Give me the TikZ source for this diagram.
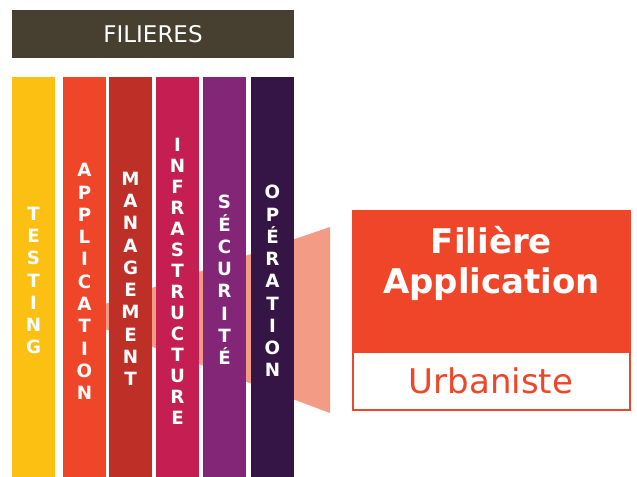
\documentclass[tikz,border=0pt]{standalone}
\usepackage{fontspec}
\setmainfont{DejaVu Sans}
\definecolor{hdrbrown}{RGB}{71,63,48}
\definecolor{cyellow}{RGB}{251,192,18}
\definecolor{cred}{RGB}{239,70,42}
\definecolor{cbrick}{RGB}{190,48,39}
\definecolor{cmagenta}{RGB}{196,30,82}
\definecolor{cpurple}{RGB}{131,38,119}
\definecolor{cdark}{RGB}{52,21,69}
\definecolor{cfunnel}{RGB}{243,155,133}
\begin{document}
\begin{tikzpicture}[x=0.75pt,y=-0.75pt,
  vlet/.style={text=white, font=\fontsize{13.7}{16.7}\selectfont\bfseries, align=center, inner sep=0pt, anchor=north},
  bigtxt/.style={inner sep=0pt, anchor=base, font=\fontsize{25.5}{30}\selectfont}]
\useasboundingbox (0,0) rectangle (637,477);
% header
\fill[hdrbrown] (12,10) rectangle (294,58);
\node[text=white, font=\fontsize{17.25}{20}\selectfont] (hdr) at (153,34) {FILIERES};
% funnel
\fill[cfunnel] (70,316) -- (330,227) -- (330,413) -- cycle;
% columns
\fill[cyellow]  (12,77)  rectangle (55,477);
\fill[cred]     (63,77)  rectangle (106,477);
\fill[cbrick]   (109,77) rectangle (152,477);
\fill[cmagenta] (156,77) rectangle (199,477);
\fill[cpurple]  (203,77) rectangle (246,477);
\fill[cdark]    (251,77) rectangle (294,477);
\node[vlet] (testing) at (33.5,206.7) {T\\E\\S\\T\\I\\N\\G};
\node[vlet] (application) at (84.5,163.3) {A\\P\\P\\L\\I\\C\\A\\T\\I\\O\\N};
\node[vlet] (management) at (130.5,171.7) {M\\A\\N\\A\\G\\E\\M\\E\\N\\T};
\node[vlet, font=\fontsize{13.7}{15.7}\selectfont\bfseries] (infra) at (177.5,138.3) {I\\N\\F\\R\\A\\S\\T\\R\\U\\C\\T\\U\\R\\E};
\node[vlet] (securite) at (224.5,195) {S\\É\\C\\U\\R\\I\\T\\É};
\node[vlet] (operation) at (272.5,185) {O\\P\\É\\R\\A\\T\\I\\O\\N};
% right box
\fill[cred] (351.5,210.5) rectangle (631,353);
\draw[cred, line width=1.875pt, fill=white] (352.75,352) rectangle (629.75,410.25);
\node[bigtxt, text=white, font=\fontsize{25.5}{30}\selectfont\bfseries] (t1) at (491.5,253.3) {Filière};
\node[bigtxt, text=white, font=\fontsize{25.5}{30}\selectfont\bfseries] (t2) at (491.5,293.3) {Application};
\node[bigtxt, text=cred] (t3) at (491,393.3) {Urbaniste};
\end{tikzpicture}
\end{document}
